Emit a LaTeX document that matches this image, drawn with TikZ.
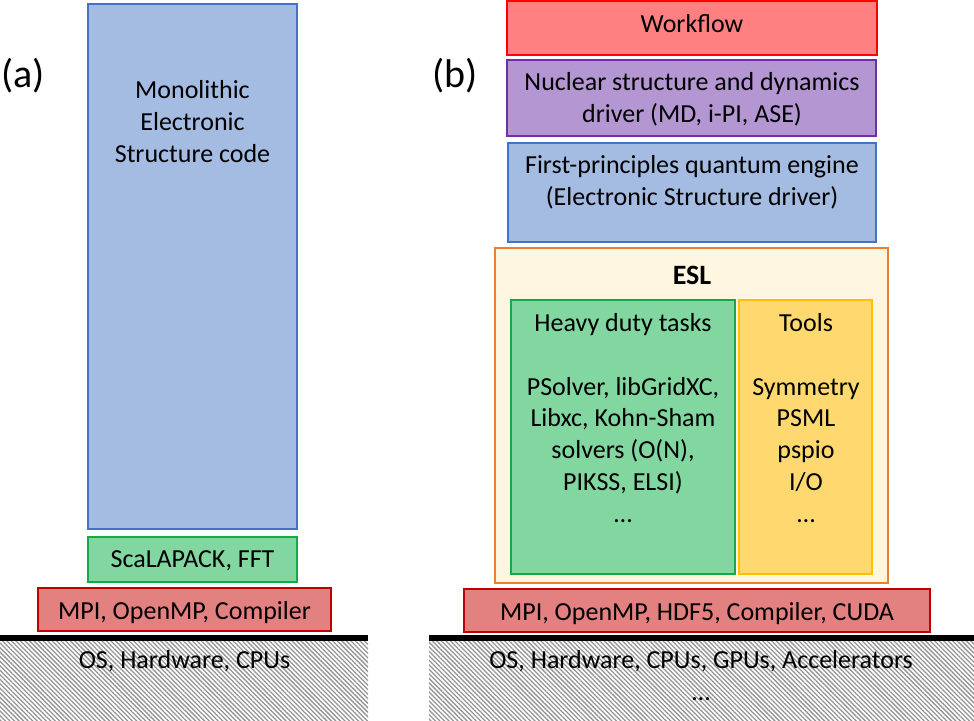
\documentclass[tikz,border=0pt]{standalone}
\usepackage{fontspec}
\setmainfont{Carlito}
\usetikzlibrary{patterns.meta}

\definecolor{blueFill}{RGB}{164,188,226}
\definecolor{blueLine}{RGB}{68,114,196}
\definecolor{greenFill}{RGB}{130,214,160}
\definecolor{greenLine}{RGB}{20,170,70}
\definecolor{mpiFill}{RGB}{227,128,128}
\definecolor{mpiLine}{RGB}{192,0,0}
\definecolor{flowFill}{RGB}{255,128,128}
\definecolor{flowLine}{RGB}{255,0,0}
\definecolor{nucFill}{RGB}{180,150,210}
\definecolor{nucLine}{RGB}{112,48,160}
\definecolor{eslFill}{RGB}{255,246,226}
\definecolor{eslLine}{RGB}{237,125,49}
\definecolor{toolFill}{RGB}{255,217,112}
\definecolor{toolLine}{RGB}{255,192,0}

\tikzset{
  layer/.style={draw,line width=2pt,inner sep=0pt},
  txt/.style={inner sep=0pt,align=center,font=\fontsize{26}{31.7}\selectfont},
  tag/.style={inner sep=0pt,font=\fontsize{40}{48}\selectfont},
  ground/.style={inner sep=0pt,pattern={Lines[angle=-45,distance=3.2pt,line width=1.3pt]},pattern color=black!42},
  bar/.style={fill=black,inner sep=0pt,minimum height=6pt}
}

\begin{document}
\begin{tikzpicture}[x=1pt,y=-1pt]
\useasboundingbox (0,0) rectangle (974,720);
% (a) monolithic code
\node[tag] (tagA) at (23,76) {(a)};
\node[layer,fill=blueFill,draw=blueLine,minimum width=209pt,minimum height=525pt] (mono) at (192.5,266.5) {};
\node[txt,anchor=base] (monoT) at (192.5,162) {Monolithic\\Electronic\\Structure code};
\node[layer,fill=greenFill,draw=greenLine,minimum width=209pt,minimum height=45pt] (scal) at (192.5,559.5) {};
\node[txt,anchor=base] (scalT) at (192.5,567) {ScaLAPACK, FFT};
\node[layer,fill=mpiFill,draw=mpiLine,minimum width=293pt,minimum height=43pt] (mpiA) at (184.5,609.5) {};
\node[txt,anchor=base] (mpiAT) at (184.5,619) {MPI, OpenMP, Compiler};
\node[bar,minimum width=368pt] (barA) at (184,638) {};
\node[ground,minimum width=368pt,minimum height=79pt] (hwA) at (184,680.5) {};
\node[txt,anchor=base] (hwAT) at (184.5,668) {OS, Hardware, CPUs};

% (b) modular code with ESL
\node[tag] (tagB) at (455,76) {(b)};
\node[layer,fill=flowFill,draw=flowLine,minimum width=370pt,minimum height=54pt] (flow) at (692,28) {};
\node[txt,anchor=base] (flowT) at (692,32) {Workflow};
\node[layer,fill=nucFill,draw=nucLine,minimum width=369pt,minimum height=76pt] (nuc) at (691.5,98) {};
\node[txt,anchor=base] (nucT) at (692,122) {Nuclear structure and dynamics\\driver (MD, i-PI, ASE)};
\node[layer,fill=blueFill,draw=blueLine,minimum width=368pt,minimum height=99pt] (qe) at (692,192.5) {};
\node[txt,anchor=base] (qeT) at (692,205) {First-principles quantum engine\\(Electronic Structure driver)};
\node[layer,fill=eslFill,draw=eslLine,minimum width=393pt,minimum height=335pt] (esl) at (691.5,415.5) {};
\node[txt,anchor=base,font=\fontsize{28}{34}\selectfont\bfseries] (eslT) at (692,284) {ESL};
\node[layer,fill=greenFill,draw=greenLine,minimum width=224pt,minimum height=274pt] (heavy) at (623,437) {};
\node[txt,anchor=base] (heavyT) at (623,331) {Heavy duty tasks};
\node[txt,anchor=base] (heavyL) at (623,522) {PSolver, libGridXC,\\Libxc, Kohn-Sham\\solvers (O(N),\\PIKSS, ELSI)\\…};
\node[layer,fill=toolFill,draw=toolLine,minimum width=133pt,minimum height=274pt] (tools) at (805.5,437) {};
\node[txt,anchor=base] (toolsT) at (806,331) {Tools};
\node[txt,anchor=base] (toolsL) at (806,522) {Symmetry\\PSML\\pspio\\I/O\\…};
\node[layer,fill=mpiFill,draw=mpiLine,minimum width=466pt,minimum height=43pt] (mpiB) at (697,610.5) {};
\node[txt,anchor=base] (mpiBT) at (697,620) {MPI, OpenMP, HDF5, Compiler, CUDA};
\node[bar,minimum width=545pt] (barB) at (701.5,638) {};
\node[ground,minimum width=545pt,minimum height=79pt] (hwB) at (701.5,680.5) {};
\node[txt,anchor=base] (hwBT) at (701,700) {OS, Hardware, CPUs, GPUs, Accelerators\\…};
\end{tikzpicture}
\end{document}
